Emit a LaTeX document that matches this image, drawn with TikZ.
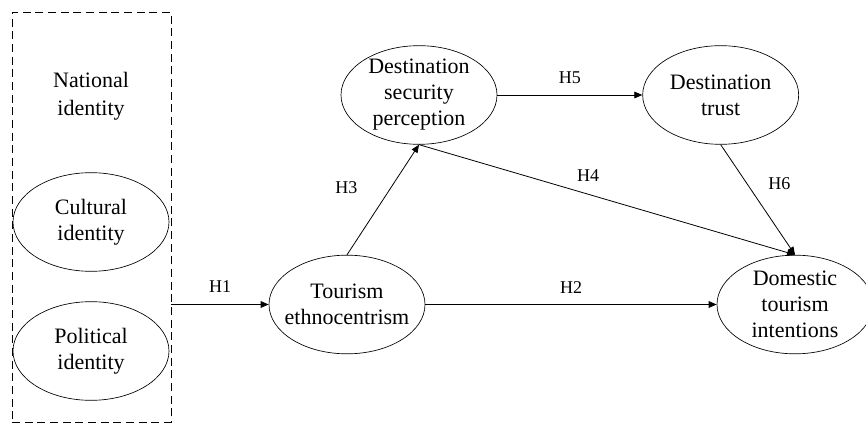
\documentclass[tikz,border=0pt]{standalone}
\usepackage{fontspec}
\setmainfont{Liberation Serif}
\usetikzlibrary{positioning,arrows.meta,shapes.geometric}

\begin{document}
\begin{tikzpicture}[x=0.75pt, y=-0.75pt,
  latent/.style={draw, ellipse, line width=0.5pt, inner xsep=-6pt, inner ysep=-2pt,
                 minimum width=117pt, minimum height=74pt, align=center,
                 font=\fontsize{16.5}{19.5}\selectfont},
  group/.style={draw, dashed, dash pattern=on 6pt off 3.5pt, line width=0.6pt,
                inner sep=0pt, minimum width=119.25pt, minimum height=307.5pt},
  arr/.style={-{Triangle[length=6pt,width=5pt]}, line width=0.6pt},
  hyp/.style={inner sep=1pt, font=\fontsize{13.5}{16}\selectfont},
]
  \useasboundingbox (0,0) rectangle (866,427);

  % national identity block
  \node[group] (NI) at (91.5,217) {};
  \node[align=center, font=\fontsize{16.5}{21}\selectfont] (NIlabel) at (91,96) {National\\identity};
  \node[latent] (CI) at (91,222) {Cultural\\identity};
  \node[latent] (PI) at (91,351) {Political\\identity};

  \node[latent] (TE) at (347,304.5) {Tourism\\ethnocentrism};
  \node[latent] (DSP) at (419,95) {Destination\\security\\perception};
  \node[latent, right=108.75pt of DSP] (DT) {Destination\\trust};
  \node[latent] (DTI) at (795,304.5) {Domestic\\tourism\\intentions};

  \draw[arr] (TE.west -| NI.east) -- node[hyp, above=8pt] {H1} (TE.west);
  \draw[arr] (TE.east) -- node[hyp, above=7pt] {H2} (DTI.west);
  \draw[arr] (TE.north) -- node[hyp, above left=3pt and 18pt] {H3} (DSP.south);
  \draw[arr] (DSP.south) -- node[hyp, pos=0.45, above=8.5pt] {H4} (DTI.north);
  \draw[arr] (DSP.east) -- node[hyp, above=7pt] {H5} (DT.west);
  \draw[arr] (DT.south) -- node[hyp, pos=0.35, right=15pt] {H6} (DTI.north);
\end{tikzpicture}
\end{document}
